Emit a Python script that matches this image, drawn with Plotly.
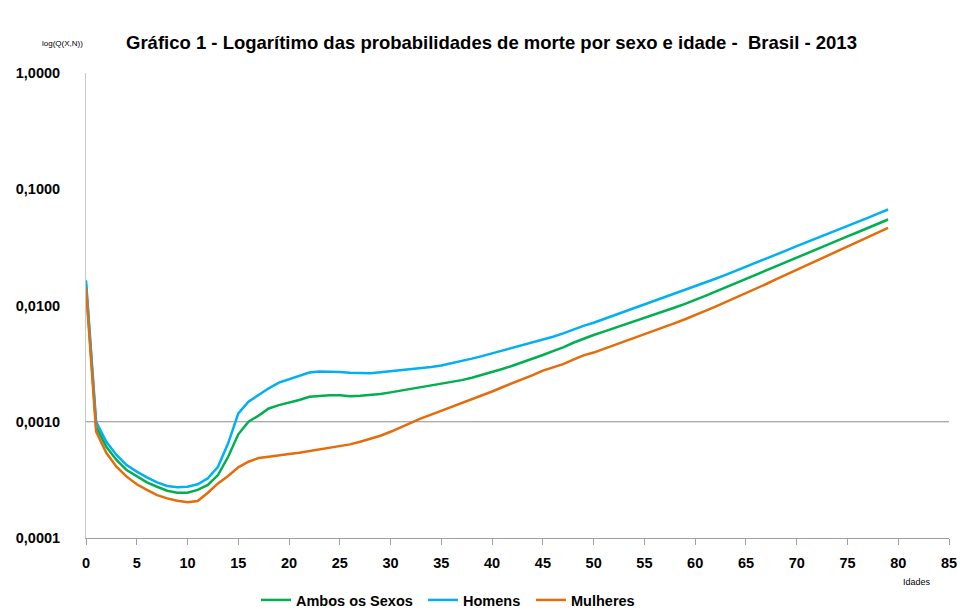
import plotly.graph_objects as go

idades = list(range(0, 80))

ambos = [0.0152, 0.000905, 0.00061, 0.000469, 0.000384, 0.000337, 0.000301, 0.000276, 0.000255, 0.000245,
         0.000245, 0.000259, 0.000286, 0.000348, 0.0005, 0.00078, 0.001, 0.00113, 0.0013, 0.00139,
         0.00146, 0.00154, 0.00164, 0.00167, 0.00169, 0.00169, 0.00166, 0.00167, 0.0017, 0.00173,
         0.00179, 0.00185, 0.00191, 0.00198, 0.00204, 0.00211, 0.00219, 0.00228, 0.00239, 0.00252,
         0.00267, 0.00284, 0.00303, 0.00324, 0.00348, 0.00375, 0.00405, 0.00436, 0.00478, 0.00518,
         0.005572, 0.005957, 0.006368, 0.006792, 0.007261, 0.007762, 0.008337, 0.008954, 0.009616, 0.01033,
         0.01109, 0.01208, 0.01318, 0.01435, 0.01567, 0.01706, 0.01854, 0.02014, 0.02188, 0.02377,
         0.02582, 0.02805, 0.03055, 0.03319, 0.03614, 0.03926, 0.04266, 0.04645, 0.05047, 0.05495]

homens = [0.0165, 0.00100, 0.000673, 0.000518, 0.000424, 0.000372, 0.000333, 0.000301, 0.00028, 0.000273,
          0.000276, 0.00029, 0.000326, 0.00041, 0.000652, 0.00118, 0.00149, 0.0017, 0.00194, 0.00217,
          0.00231, 0.00247, 0.00265, 0.00271, 0.00271, 0.00268, 0.00264, 0.00261, 0.00261, 0.00266,
          0.00271, 0.00277, 0.00282, 0.00288, 0.00296, 0.00305, 0.00318, 0.00333, 0.00349, 0.00367,
          0.00387, 0.00408, 0.00431, 0.00456, 0.00479, 0.00504, 0.00538, 0.00575, 0.00622, 0.00668,
          0.00711, 0.00764, 0.00818, 0.00879, 0.00942, 0.01012, 0.01086, 0.01169, 0.01256, 0.01352,
          0.01452, 0.01570, 0.01698, 0.01837, 0.01986, 0.02148, 0.02333, 0.02529, 0.02748, 0.02979,
          0.03236, 0.03499, 0.03793, 0.04102, 0.04446, 0.04808, 0.05224, 0.05675, 0.06166, 0.06699]

mulheres = [0.0140, 0.00082, 0.00054, 0.00041, 0.000337, 0.00029, 0.000259, 0.000234, 0.000219, 0.000209,
            0.000203, 0.000208, 0.000245, 0.000295, 0.000341, 0.000405, 0.000453, 0.000487, 0.0005, 0.000517,
            0.000528, 0.000542, 0.00056, 0.000571, 0.00059, 0.00061, 0.000639, 0.000673, 0.000714, 0.000758,
            0.00082, 0.00090, 0.00098, 0.00107, 0.00115, 0.00124, 0.00134, 0.00144, 0.00155, 0.00167,
            0.00182, 0.00198, 0.00214, 0.00231, 0.00252, 0.00275, 0.00294, 0.00313, 0.00342, 0.00372,
            0.003936, 0.004227, 0.004539, 0.004875, 0.005236, 0.005623, 0.006067, 0.006546, 0.007063, 0.007621,
            0.008222, 0.008974, 0.009795, 0.01069, 0.01167, 0.01274, 0.01396, 0.01531, 0.01683, 0.01845,
            0.02023, 0.02218, 0.02432, 0.02673, 0.02931, 0.03214, 0.03524, 0.03864, 0.04246, 0.04656]

y_tickvals = [0.0001, 0.001, 0.01, 0.1, 1]
y_ticktext = ["0,0001", "0,0010", "0,0100", "0,1000", "1,0000"]
x_tickvals = list(range(0, 90, 5))

FONT = "Liberation Sans"
L, R, T, B = 86, 11, 73, 75
PW, PH = 960 - L - R, 613 - T - B

def px(x):
    return (x - L) / PW

def py(y):
    return (613 - B - y) / PH

fig = go.Figure()
series = [("Ambos os Sexos", ambos, "#00B050", "legend", 256),
          ("Homens", homens, "#00B0F0", "legend2", 423),
          ("Mulheres", mulheres, "#E46C0A", "legend3", 531)]
legfont = dict(family=FONT, size=14.5, color="black", weight="bold")
for name, vals, col, leg, lx in series:
    fig.add_trace(go.Scatter(x=idades, y=vals, mode="lines", name=name, legend=leg,
                             line=dict(color=col, width=2.5)))
    fig.update_layout({leg: dict(orientation="h", x=px(lx), xanchor="left", y=py(600),
                                 yanchor="middle", font=legfont, itemwidth=30,
                                 bgcolor="rgba(0,0,0,0)")})

fig.update_layout(
    width=960, height=613,
    margin=dict(l=L, r=R, t=T, b=B, autoexpand=False),
    paper_bgcolor="white", plot_bgcolor="white",
    font=dict(family=FONT, color="black"),
    showlegend=True,
)
fig.update_xaxes(range=[0, 85], tickvals=x_tickvals, ticks="outside", ticklen=6,
                 tickcolor="#A0A0A0", showline=True, linecolor="#A0A0A0", linewidth=1,
                 showgrid=False, zeroline=False, ticklabelstandoff=6, automargin=False,
                 tickfont=dict(family=FONT, size=14.5, color="black", weight="bold"))
fig.update_yaxes(type="log", range=[-4, 0], tickvals=y_tickvals, ticktext=y_ticktext,
                 showline=True, linecolor="#C8C8C8", linewidth=1, showgrid=False,
                 zeroline=False, ticks="", ticklabelstandoff=22, automargin=False,
                 tickfont=dict(family=FONT, size=14.5, color="black", weight="bold"))

fig.add_shape(type="line", xref="paper", yref="y", x0=0, x1=1, y0=0.001, y1=0.001,
              line=dict(color="#8C8C8C", width=1), layer="below")

fig.add_annotation(text="Gráfico 1 - Logarítimo das probabilidades de morte por sexo e idade -  Brasil - 2013",
                   xref="paper", yref="paper", x=px(491), y=py(42),
                   xanchor="center", yanchor="middle", showarrow=False,
                   font=dict(family=FONT, size=18.5, color="black", weight="bold"))
fig.add_annotation(text="log(Q(X,N))", xref="paper", yref="paper",
                   x=px(62), y=py(43), xanchor="center", yanchor="middle",
                   showarrow=False, font=dict(family=FONT, size=8, color="black"))
fig.add_annotation(text="Idades", xref="paper", yref="paper",
                   x=px(917), y=py(582), xanchor="center", yanchor="middle",
                   showarrow=False, font=dict(family=FONT, size=9, color="black"))

fig.write_html("out.html", config={"displayModeBar": False},
               post_script="document.body.style.margin='0';document.body.style.overflow='hidden';")
